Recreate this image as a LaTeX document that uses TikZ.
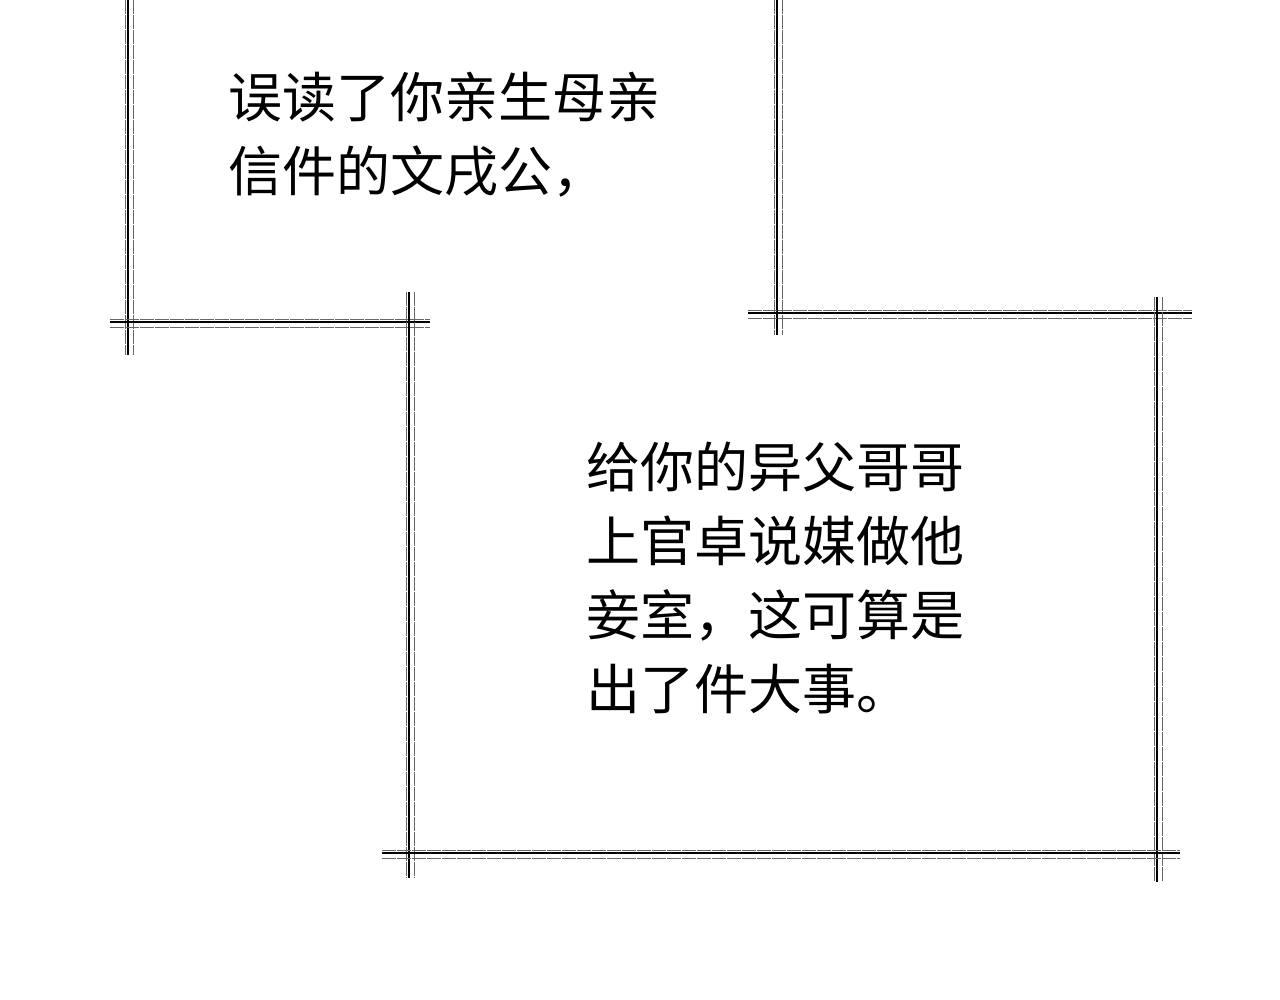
\documentclass[tikz,border=0pt]{standalone}
\usepackage{fontspec}
\newfontfamily\cjk{Noto Sans CJK SC}
\begin{document}
\begin{tikzpicture}[x=1pt,y=-1pt,
  txt/.style={font=\cjk\fontsize{54}{74}\selectfont, anchor=north west, inner sep=0pt, align=left, text=black},
  edge/.style={line width=1.6pt, black},
  edge2/.style={line width=0.6pt, black!60, dashed, dash pattern=on 14pt off 1pt}]
\useasboundingbox[fill=white] (0,0) rectangle (1280,1000);
% sketchy lines: helper via repeated draws
\foreach \xa/\ya/\xb/\yb/\dx/\dy in {
  128/0/128/355/5/0,
  110/322/430/322/0/5,
  777/0/777/335/5/0,
  409/292/409/878/5/0,
  748/313/1192/313/0/5,
  1157/297/1157/882/5/0,
  382/853/1180/853/0/5}{
  \draw[edge] (\xa,\ya) -- (\xb,\yb);
  \draw[edge2] (\xa+\dx,\ya+\dy) -- (\xb+\dx,\yb+\dy);
  \draw[edge2] (\xa-\dx*0.5,\ya-\dy*0.5) -- (\xb-\dx*0.5,\yb-\dy*0.5);
}
\node[txt] (t1) at (228,72) {误读了你亲生母亲\\信件的文戌公，};
\node[txt] (t2) at (586,442) {给你的异父哥哥\\上官卓说媒做他\\妾室，这可算是\\出了件大事。};
\end{tikzpicture}
\end{document}
